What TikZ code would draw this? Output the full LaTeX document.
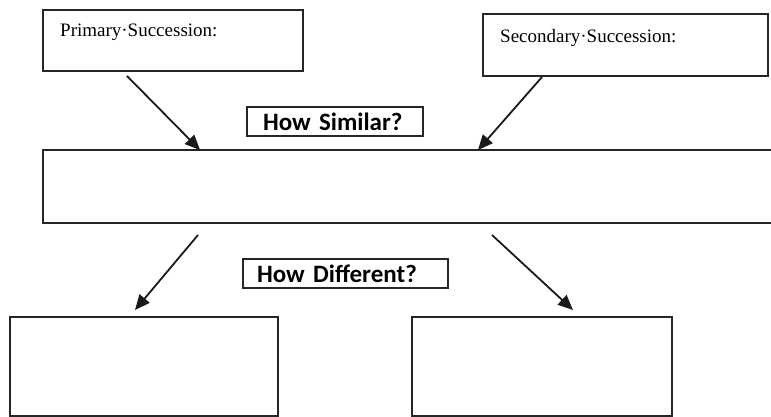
\documentclass[tikz,border=0pt]{standalone}
\usepackage{fontspec}
\setmainfont{Liberation Serif}
\newfontfamily\askfont{Carlito}
\usepackage{tikz}
\usetikzlibrary{arrows.meta,calc,positioning}
\tikzset{
  box/.style={draw=black!85,line width=2.2pt,rectangle,inner sep=0pt,outer sep=0pt},
  askbox/.style={box,line width=1.8pt,font=\askfont\bfseries\fontsize{25}{28}\selectfont,align=left,minimum height=29pt,anchor=west},
  heading/.style={font=\fontsize{19}{22}\selectfont,inner sep=0pt,anchor=north west},
  arr/.style={-{Triangle[length=15pt,width=13pt]},line width=1.8pt,black!90}
}

\begin{document}
\begin{tikzpicture}[x=1pt,y=1pt]
			\useasboundingbox (0,0) rectangle (771,417);
			\node[box,minimum width=260pt,minimum height=61pt,
				label={[heading,xshift=17pt,yshift=-14pt]north west:Primary·Succession:}] (prim) at (173,376.5) {};
			\node[box,minimum width=285pt,minimum height=62pt,
				label={[heading,xshift=17pt,yshift=-15pt]north west:Secondary·Succession:}] (second) at (625.5,372) {};
			\node[box,draw=none,minimum width=728pt,minimum height=73pt] (both) at (407,230.5) {};
			\draw[box] (both.north east) -- (both.north west) -- (both.south west) -- (both.south east);
			\node[askbox,text width=144pt,inner xsep=16pt] (simq) at (247,295.5) {How Similar?};
			\node[askbox,text width=177pt,inner xsep=14pt] (diffq) at (243,143.5) {How Different?};
			\node[box,minimum width=268pt,minimum height=99pt] (primdiff) at (144,50.5) {};
			\node[box,minimum width=260pt,minimum height=99pt] (seconddiff) at (542,50.5) {};
			\draw[arr] ([xshift=84pt,yshift=-5pt]prim.south west) to ([xshift=157pt]both.north west);
			\draw[arr] ([xshift=59pt,yshift=-1pt]second.south west) to ([xshift=435pt]both.north west);
			\draw[arr] ([xshift=155pt,yshift=-12pt]both.south west) to ([xshift=125pt,yshift=7pt]primdiff.north west);
			\draw[arr] ([xshift=449pt,yshift=-12pt]both.south west) to ([xshift=161pt,yshift=7pt]seconddiff.north west);
\end{tikzpicture}
\end{document}
